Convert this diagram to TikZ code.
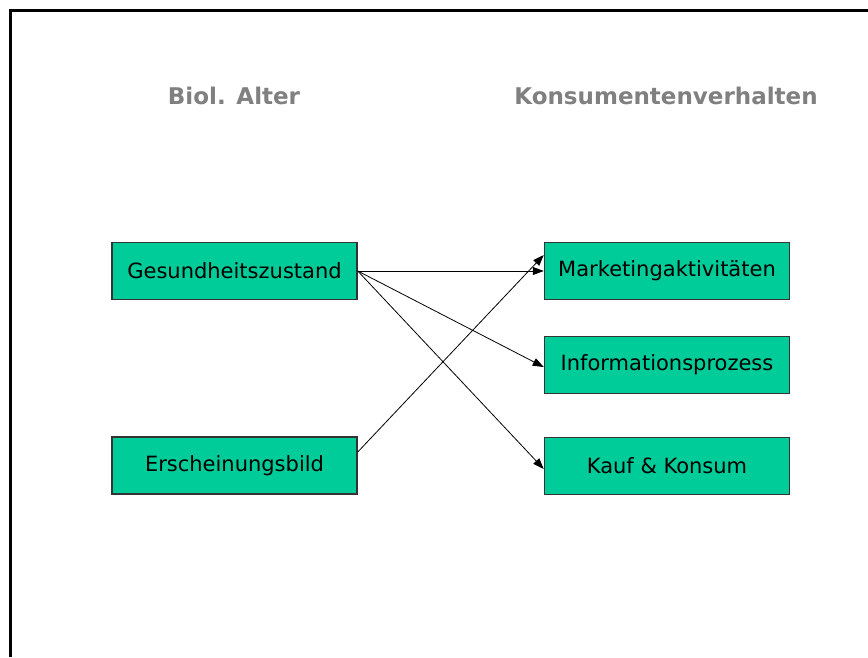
\documentclass[tikz,border=0pt]{standalone}
\usepackage{fontspec}
\setmainfont{DejaVu Sans}
\usetikzlibrary{arrows.meta}
\definecolor{boxgreen}{HTML}{00CC99}
\definecolor{boxline}{HTML}{333333}
\definecolor{headgray}{HTML}{808080}
\begin{document}
\begin{tikzpicture}[x=1pt,y=-1pt,
  box/.style={draw=boxline,line width=1.5pt,fill=boxgreen,minimum width=245pt,minimum height=57pt,inner sep=0pt,font=\fontsize{21}{24}\selectfont},
  head/.style={text=headgray,font=\bfseries\fontsize{23}{26}\selectfont,inner sep=0pt},
  arr/.style={-{Triangle[length=11pt,width=8pt]},line width=0.8pt,black}]
\useasboundingbox (0,0) rectangle (868,657);
\fill[white] (0,0) rectangle (868,657);
\draw[line width=3pt] (10.5,657) -- (10.5,10.5) -- (868,10.5);
\node[head] (h1) at (234,96) {Biol. Alter};
\node[head] (h2) at (666,96) {Konsumentenverhalten};
\node[box] (g) at (234.5,271) {Gesundheitszustand};
\node[box] (e) at (234.5,465.5) {Erscheinungsbild};
\node[box] (m) at (667,271) {Marketingaktivitäten};
\node[box] (i) at (667,365) {Informationsprozess};
\node[box] (k) at (667,466) {Kauf \& Konsum};
\draw[arr] (g.east) -- (m.west);
\draw[arr] (g.east) -- ([yshift=-2pt]i.west);
\draw[arr] (g.east) -- ([yshift=-3pt]k.west);
\draw[arr] ([yshift=13.5pt]e.east) -- ([yshift=16pt]m.west);
\end{tikzpicture}
\end{document}
